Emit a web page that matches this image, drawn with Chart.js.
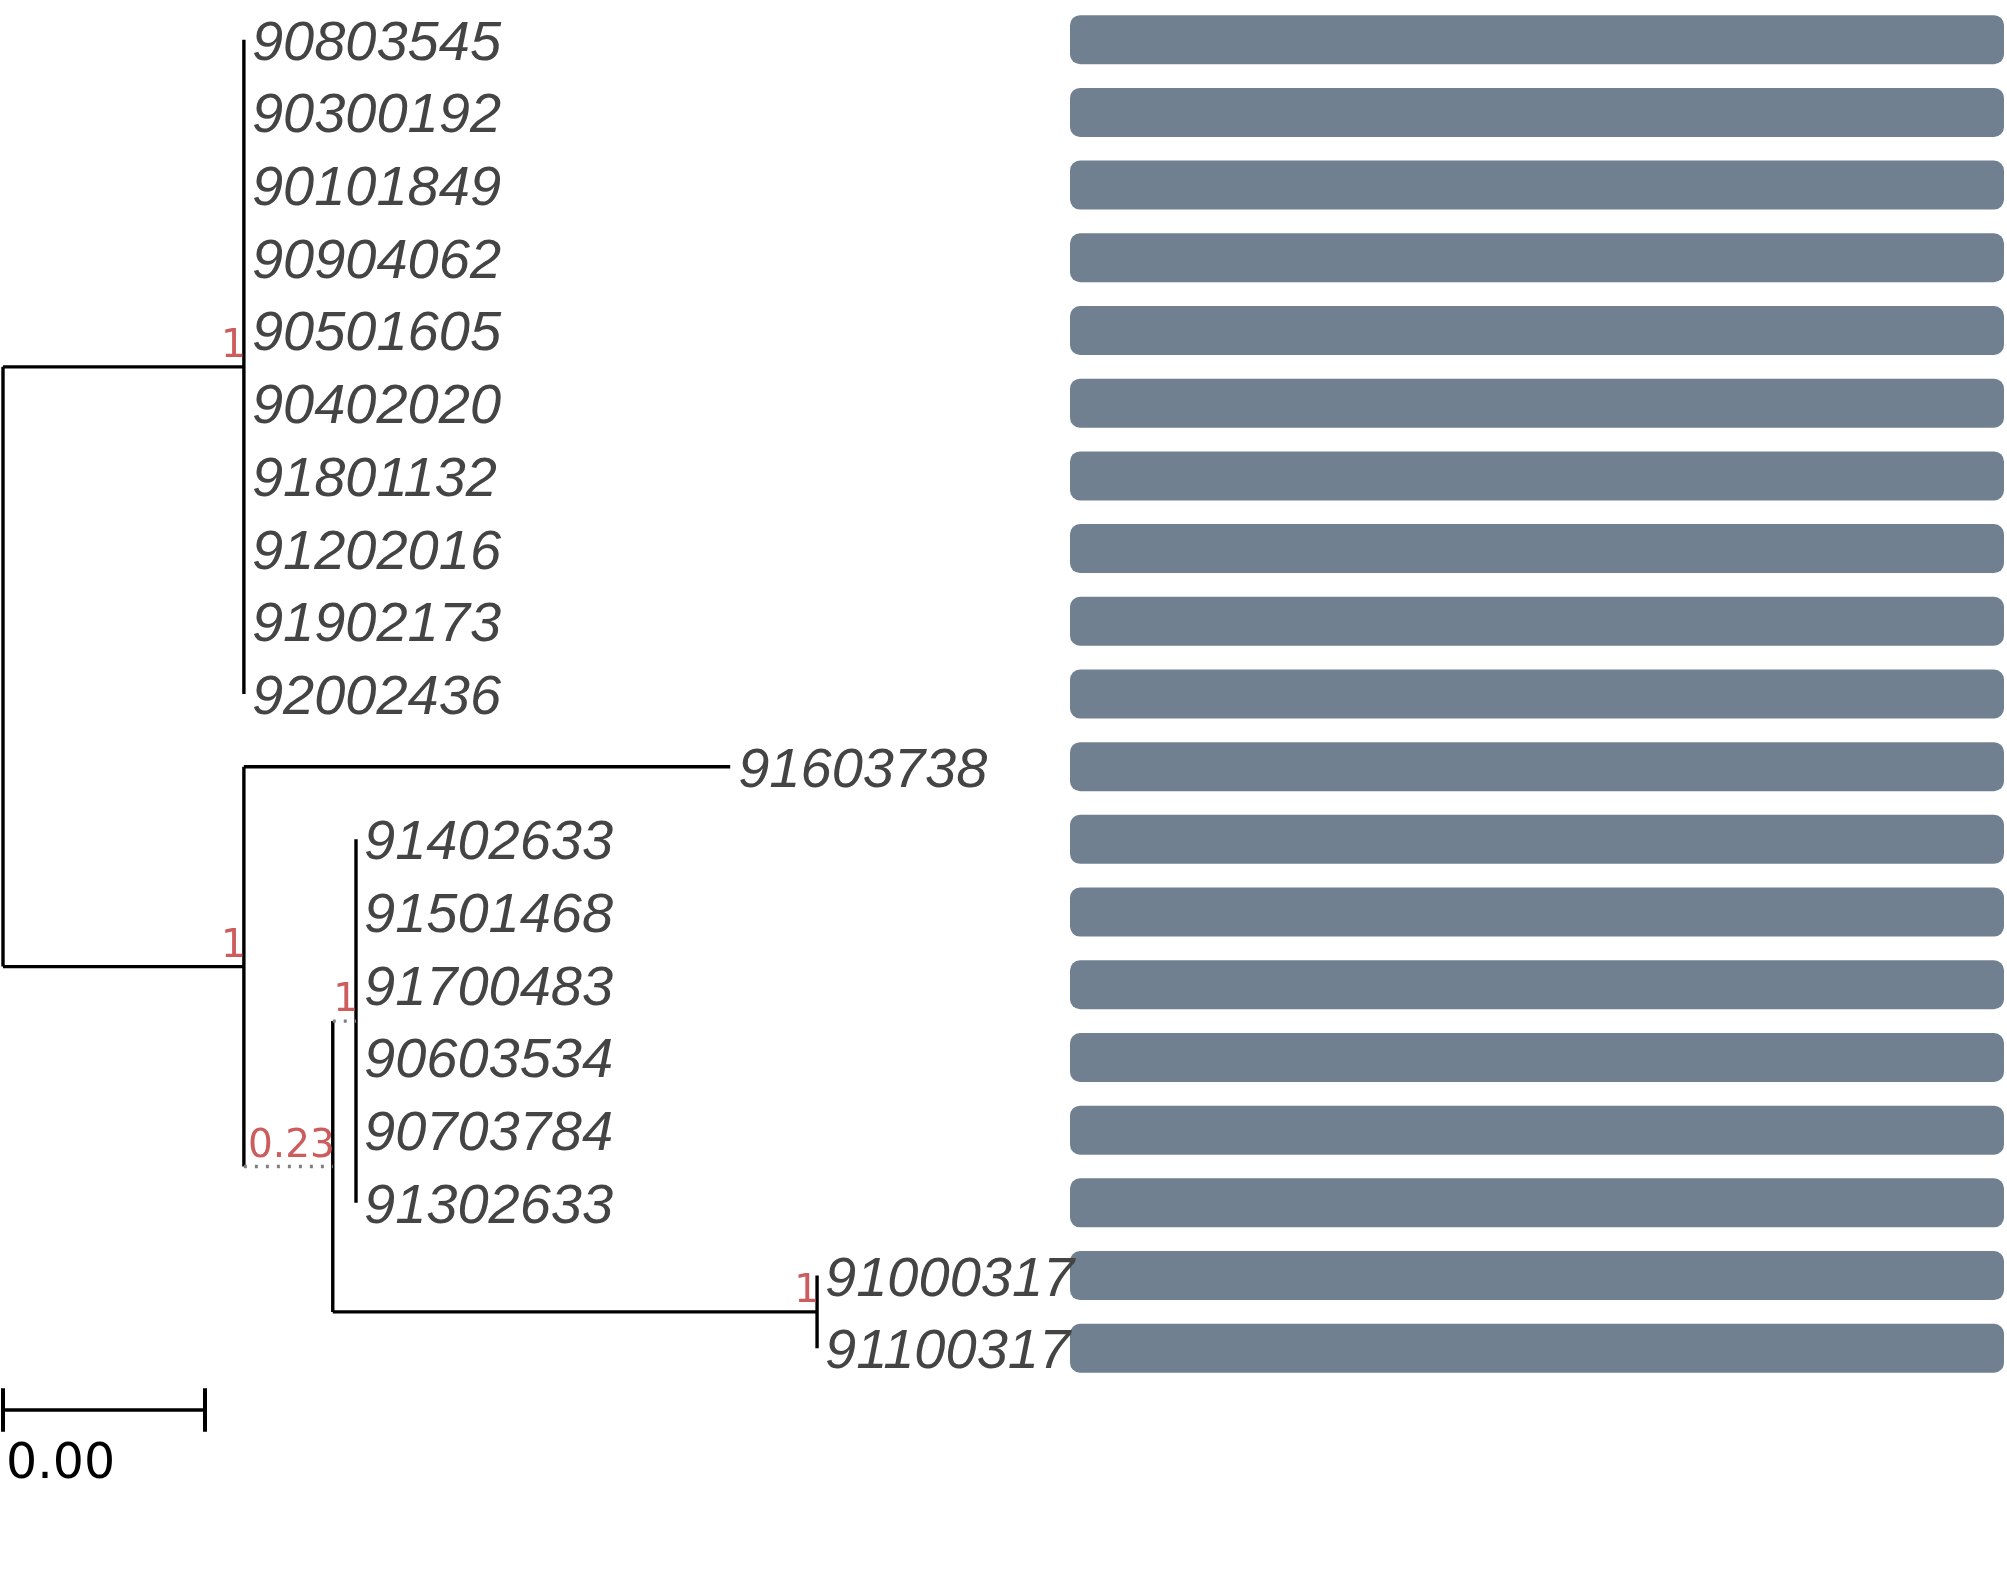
<!DOCTYPE html>
<html lang="en">
<head>
  <meta charset="UTF-8" />
  <title>Tree with bars</title>
  <script src="https://cdn.jsdelivr.net/npm/chart.js"></script>
  <style>
    html, body { margin: 0; padding: 0; background: #fff; }
    .wrap { width: 2007px; height: 1591px; position: relative; }
  </style>
</head>
<body>
  <div class="wrap"><canvas id="treeChart"></canvas></div>

  <script>
    // tips, top to bottom
    const tipLabels = [
      "90803545", "90300192", "90101849", "90904062", "90501605",
      "90402020", "91801132", "91202016", "91902173", "92002436",
      "91603738",
      "91402633", "91501468", "91700483", "90603534", "90703784", "91302633",
      "91000317", "91100317"
    ];
    // internal nodes: root, A, B, C, D, E
    const nodeParent = [-1, 0, 0, 2, 3, 3];
    const nodeDepth = [0, 0.00477, 0.00477, 0.00653, 0.00699, 0.01612];
    const nodeSupport = [null, "1", "1", "0.23", "1", "1"];
    const tipParent = [1, 1, 1, 1, 1, 1, 1, 1, 1, 1, 2, 4, 4, 4, 4, 4, 4, 5, 5];
    const tipDepth = [
      0.00477, 0.00477, 0.00477, 0.00477, 0.00477, 0.00477, 0.00477, 0.00477, 0.00477, 0.00477,
      0.0144,
      0.00699, 0.00699, 0.00699, 0.00699, 0.00699, 0.00699,
      0.01612, 0.01612
    ];
    const barValues = [1, 1, 1, 1, 1, 1, 1, 1, 1, 1, 1, 1, 1, 1, 1, 1, 1, 1, 1];
    const scaleBarLength = 0.004;
    const scaleBarLabel = "0.00";

    // branches drawn dotted (index of child node)
    const dottedNodes = [3, 4];

    // node y = middle of its children
    const nodeY = [], nodeYMin = [], nodeYMax = [];
    function getNodeY(n) {
      if (nodeY[n] !== undefined) return nodeY[n];
      const ys = [];
      tipParent.forEach((p, i) => { if (p === n) ys.push(i); });
      nodeParent.forEach((p, i) => { if (p === n) ys.push(getNodeY(i)); });
      nodeYMin[n] = Math.min(...ys);
      nodeYMax[n] = Math.max(...ys);
      nodeY[n] = (nodeYMin[n] + nodeYMax[n]) / 2;
      return nodeY[n];
    }
    nodeParent.forEach((_, i) => getNodeY(i));

    function seg(x1, y1, x2, y2, dotted, width) {
      return {
        type: "line",
        indexAxis: "x",
        xAxisID: "x",
        yAxisID: "y",
        data: [{ x: x1, y: y1 }, { x: x2, y: y2 }],
        borderColor: dotted ? "#808080" : "#000",
        borderWidth: width || 3.4,
        borderDash: dotted ? [3, 8] : [],
        borderCapStyle: "butt",
        pointRadius: 0,
        tension: 0
      };
    }

    const lineSets = [];
    // horizontal branches
    nodeParent.forEach((p, i) => {
      if (p < 0) return;
      lineSets.push(seg(nodeDepth[p], nodeY[i], nodeDepth[i], nodeY[i], dottedNodes.includes(i)));
    });
    tipParent.forEach((p, i) => {
      if (tipDepth[i] > nodeDepth[p]) lineSets.push(seg(nodeDepth[p], i, tipDepth[i], i, false));
    });
    // vertical lines
    nodeParent.forEach((_, i) => {
      lineSets.push(seg(nodeDepth[i], nodeYMin[i], nodeDepth[i], nodeYMax[i], false));
    });
    // scale bar
    lineSets.push(seg(0, 18.85, scaleBarLength, 18.85, false));
    lineSets.push(seg(0, 18.55, 0, 19.15, false, 4));
    lineSets.push(seg(scaleBarLength, 18.55, scaleBarLength, 19.15, false, 4));

    const textPlugin = {
      id: "treeText",
      afterDatasetsDraw(chart) {
        const ctx = chart.ctx;
        const xs = chart.scales.x, ys = chart.scales.y;
        ctx.save();
        // tip labels
        ctx.font = "italic 56px 'Liberation Sans', Arial, sans-serif";
        ctx.fillStyle = "#444";
        ctx.textAlign = "left";
        ctx.textBaseline = "alphabetic";
        tipLabels.forEach((t, i) => {
          ctx.fillText(t, xs.getPixelForValue(tipDepth[i]) + 8, ys.getPixelForValue(i) + 20);
        });
        // support values
        ctx.font = "39px 'DejaVu Sans', sans-serif";
        ctx.fillStyle = "#cd5c5c";
        ctx.textAlign = "right";
        nodeSupport.forEach((s, i) => {
          if (s === null) return;
          ctx.fillText(s, xs.getPixelForValue(nodeDepth[i]) + 2, ys.getPixelForValue(nodeY[i]) - 10);
        });
        // scale label
        ctx.font = "49px 'DejaVu Sans', sans-serif";
        ctx.fillStyle = "#000";
        ctx.textAlign = "left";
        ctx.fillText(scaleBarLabel, xs.getPixelForValue(0) + 3, ys.getPixelForValue(19.78));
        ctx.restore();
      }
    };

    new Chart(document.getElementById("treeChart"), {
      type: "bar",
      data: {
        datasets: [{
          type: "bar",
          indexAxis: "y",
          xAxisID: "xb",
          yAxisID: "y",
          data: tipLabels.map((_, i) => ({ x: [0, barValues[i]], y: i })),
          backgroundColor: "#708090",
          borderRadius: 10,
          borderSkipped: false,
          grouped: false,
          categoryPercentage: 1,
          barPercentage: 1.3,
          maxBarThickness: 49
        }].concat(lineSets)
      },
      options: {
        responsive: true,
        maintainAspectRatio: false,
        animation: false,
        events: [],
        layout: { padding: 0 },
        plugins: { legend: { display: false }, tooltip: { enabled: false } },
        scales: {
          x: { type: "linear", display: false, offset: false, min: -0.0000594, max: 0.039683 },
          xb: { type: "linear", axis: "x", display: false, offset: false, min: -1.14561, max: 1.00321 },
          y: { type: "linear", display: false, offset: false, reverse: true, min: -0.546, max: 21.339 }
        }
      },
      plugins: [textPlugin]
    });
  </script>
</body>
</html>
